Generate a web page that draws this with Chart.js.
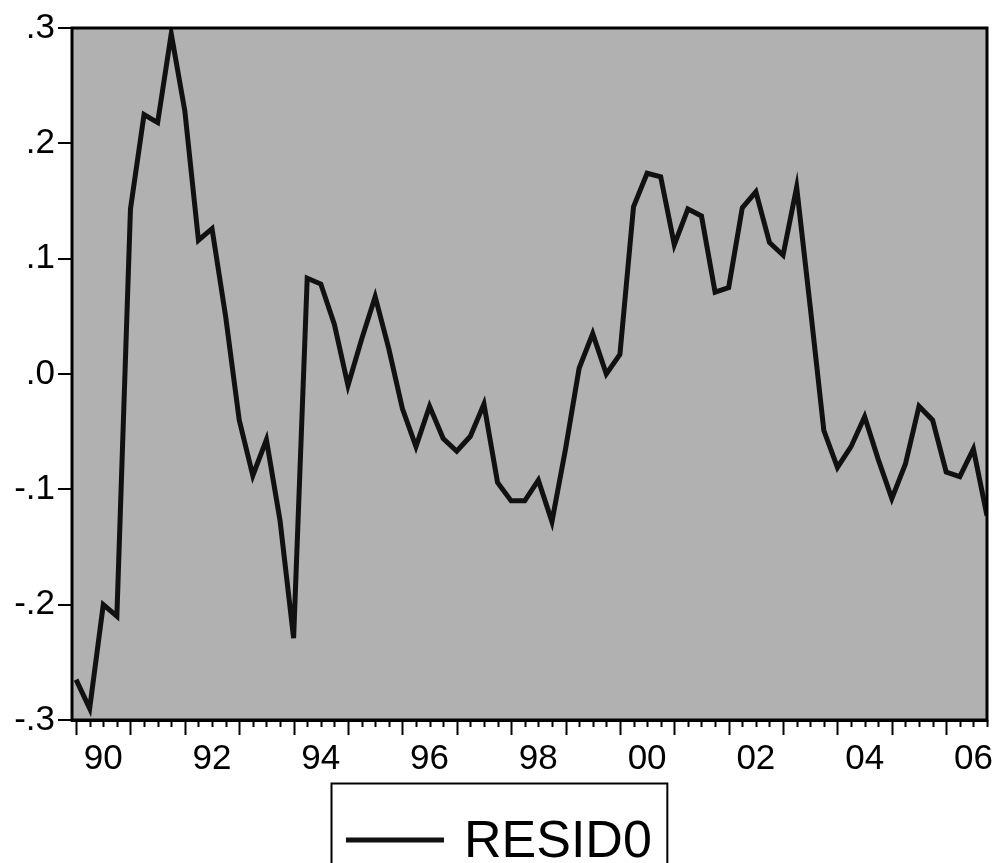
<!DOCTYPE html>
<html>
<head>
<meta charset="utf-8">
<title>RESID0</title>
<script src="https://cdn.jsdelivr.net/npm/chart.js@4.4.0/dist/chart.umd.min.js"></script>
<style>
  html, body { margin: 0; padding: 0; background: #fff; }
  #wrap { width: 997px; height: 863px; position: relative; }
</style>
</head>
<body>
<div id="wrap"><canvas id="residChart"></canvas></div>
<script>
// quarterly sample 1990Q1 - 2006Q4
const years = ['1990', '1991', '1992', '1993', '1994', '1995', '1996', '1997', '1998',
  '1999', '2000', '2001', '2002', '2003', '2004', '2005', '2006'];
const quarterNames = ['Q1', 'Q2', 'Q3', 'Q4'];
const quarterLabels = years.flatMap(y => quarterNames.map(q => y + q));

// years that get a label on the x axis (shown as two digits)
const labelYears = ['1990', '1992', '1994', '1996', '1998', '2000', '2002', '2004', '2006'];

// y axis ticks
const yTicks = [-0.3, -0.2, -0.1, 0.0, 0.1, 0.2, 0.3];

// residual series, one value per quarter
const resid0 = [
  -0.265, -0.290, -0.200, -0.210,   // 1990
   0.143,  0.225,  0.218,  0.295,   // 1991
   0.228,  0.116,  0.126,  0.050,   // 1992
  -0.040, -0.088, -0.057, -0.127,   // 1993
  -0.229,  0.083,  0.078,  0.043,   // 1994
  -0.010,  0.030,  0.067,  0.022,   // 1995
  -0.030, -0.063, -0.028, -0.056,   // 1996
  -0.067, -0.054, -0.026, -0.094,   // 1997
  -0.110, -0.110, -0.092, -0.128,   // 1998
  -0.065,  0.005,  0.035,  0.000,   // 1999
   0.017,  0.145,  0.174,  0.171,   // 2000
   0.112,  0.143,  0.137,  0.071,   // 2001
   0.075,  0.144,  0.158,  0.114,   // 2002
   0.103,  0.162,  0.058, -0.049,   // 2003
  -0.081, -0.063, -0.037, -0.074,   // 2004
  -0.108, -0.078, -0.028, -0.040,   // 2005
  -0.085, -0.089, -0.065, -0.123    // 2006
];

const FONT = 'Liberation Sans, Arial, Helvetica, sans-serif';

// gray plot background, frame, quarter tick marks and boxed legend
const eviewsLook = {
  id: 'eviewsLook',
  beforeDatasetsDraw(chart) {
    const { ctx, chartArea: a } = chart;
    ctx.save();
    ctx.fillStyle = '#b1b1b1';
    ctx.fillRect(a.left, a.top, a.right - a.left, a.bottom - a.top);
    ctx.restore();
  },
  afterDatasetsDraw(chart) {
    const { ctx, chartArea: a } = chart;
    const xs = chart.scales.x;
    ctx.save();
    ctx.strokeStyle = '#000';
    ctx.lineWidth = 3;
    ctx.strokeRect(a.left, a.top, a.right - a.left, a.bottom - a.top);

    // ticks below the x axis: long on Q1, short otherwise
    ctx.lineWidth = 2;
    quarterLabels.forEach((q, i) => {
      const px = Math.round(xs.getPixelForValue(i)) + 0.5;
      const len = q.endsWith('Q1') ? 15 : 7;
      ctx.beginPath();
      ctx.moveTo(px, a.bottom);
      ctx.lineTo(px, a.bottom + len);
      ctx.stroke();
    });
    ctx.restore();
  },
  afterDraw(chart) {
    const { ctx } = chart;
    const ds = chart.data.datasets[0];
    ctx.save();
    ctx.font = '52px ' + FONT;
    const textW = ctx.measureText(ds.label).width;
    const pad = 15, sample = 98, gap = 20;
    const boxW = pad + sample + gap + textW + pad;
    const left = Math.round(chart.width / 2 - boxW / 2);
    const top = chart.chartArea.bottom + 63;
    ctx.strokeStyle = '#000';
    ctx.lineWidth = 2;
    ctx.strokeRect(left + 0.5, top + 0.5, boxW, 120);
    ctx.strokeStyle = ds.borderColor;
    ctx.lineWidth = 5;
    ctx.beginPath();
    ctx.moveTo(left + pad, top + 57);
    ctx.lineTo(left + pad + sample, top + 57);
    ctx.stroke();
    ctx.fillStyle = '#000';
    ctx.textBaseline = 'alphabetic';
    ctx.fillText(ds.label, left + pad + sample + gap, top + 74);
    ctx.restore();
  }
};

new Chart(document.getElementById('residChart'), {
  type: 'line',
  data: {
    datasets: [{
      label: 'RESID0',
      data: resid0.map((v, i) => ({ x: i, y: v })),
      borderColor: '#111',
      borderWidth: 5,
      pointRadius: 0,
      tension: 0,
      fill: false
    }]
  },
  options: {
    responsive: true,
    maintainAspectRatio: false,
    animation: false,
    layout: { padding: { top: 28, right: 10, bottom: 73, left: 0 } },
    plugins: {
      legend: { display: false },
      tooltip: { enabled: false }
    },
    scales: {
      x: {
        type: 'linear',
        min: -0.3,
        max: quarterLabels.length - 1,
        grid: { display: false },
        border: { display: true, color: '#000', width: 3 },
        afterBuildTicks: scale => {
          scale.ticks = labelYears.map(y => ({ value: quarterLabels.indexOf(y + 'Q3') }));
        },
        afterFit: scale => {
          scale.height = 70;
          // the "06" label may hang past the frame, as in the original
          scale.paddingLeft = 0;
          scale.paddingRight = 0;
        },
        ticks: {
          autoSkip: false,
          maxRotation: 0,
          padding: 10,
          color: '#000',
          font: { family: FONT, size: 35 },
          callback: (value, index) => labelYears[index].slice(2)
        }
      },
      y: {
        min: yTicks[0],
        max: yTicks[yTicks.length - 1],
        afterBuildTicks: scale => {
          scale.ticks = yTicks.map(v => ({ value: v }));
        },
        afterFit: scale => { scale.width = 72; },
        grid: {
          drawOnChartArea: false,
          drawTicks: true,
          tickLength: 14,
          color: '#000',
          lineWidth: 2
        },
        border: { display: true, color: '#000', width: 3 },
        ticks: {
          padding: 3,
          color: '#000',
          font: { family: FONT, size: 35 },
          callback: v => v.toFixed(1).replace('0.', '.')
        }
      }
    }
  },
  plugins: [eviewsLook]
});
</script>
</body>
</html>
